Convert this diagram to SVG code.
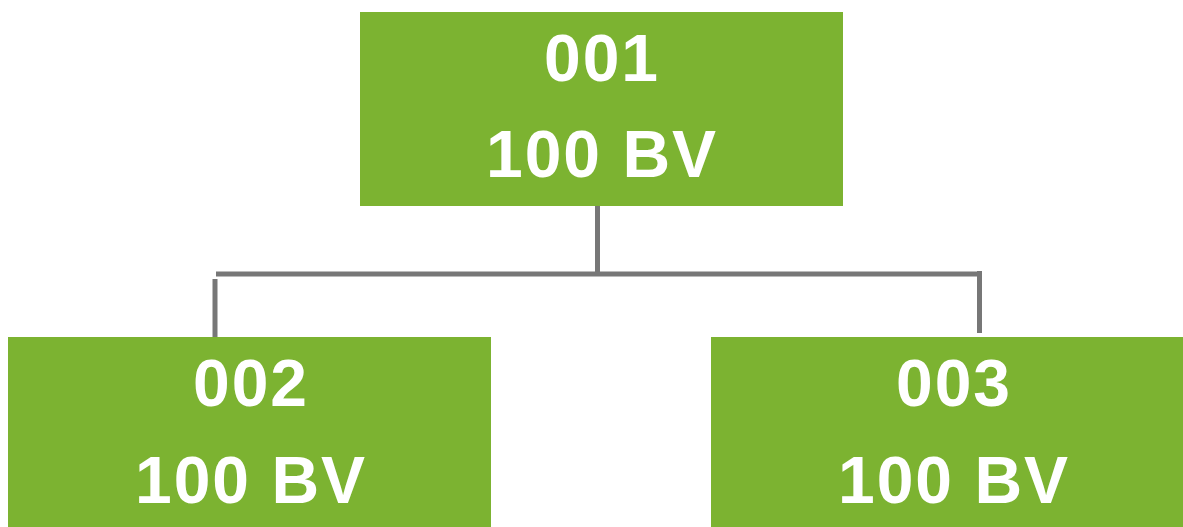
<svg xmlns="http://www.w3.org/2000/svg" width="1183" height="527" viewBox="0 0 1183 527">
<style>
.box{fill:#7cb331}
.t{font-family:"Liberation Sans",Arial,sans-serif;font-weight:bold;font-size:66px;fill:#fff;text-anchor:middle;letter-spacing:2px}
.c{stroke:#777;stroke-width:5;fill:none}
</style>
<rect width="1183" height="527" fill="#fff"/>
<g id="connectors">
<line class="c" x1="597.5" y1="206" x2="597.5" y2="274"/>
<line class="c" x1="216" y1="274" x2="982" y2="274"/>
<line class="c" x1="215" y1="279" x2="215" y2="337"/>
<line class="c" x1="979.5" y1="271" x2="979.5" y2="333"/>
</g>
<g id="node001">
<rect class="box" x="360" y="12" width="483" height="194"/>
<text class="t" x="602" y="81">001</text>
<text class="t" x="602" y="177">100 BV</text>
</g>
<g id="node002">
<rect class="box" x="8" y="337" width="483" height="190"/>
<text class="t" x="251" y="406">002</text>
<text class="t" x="251" y="503">100 BV</text>
</g>
<g id="node003">
<rect class="box" x="711" y="337" width="472" height="190"/>
<text class="t" x="954" y="406">003</text>
<text class="t" x="954" y="503">100 BV</text>
</g>
</svg>
